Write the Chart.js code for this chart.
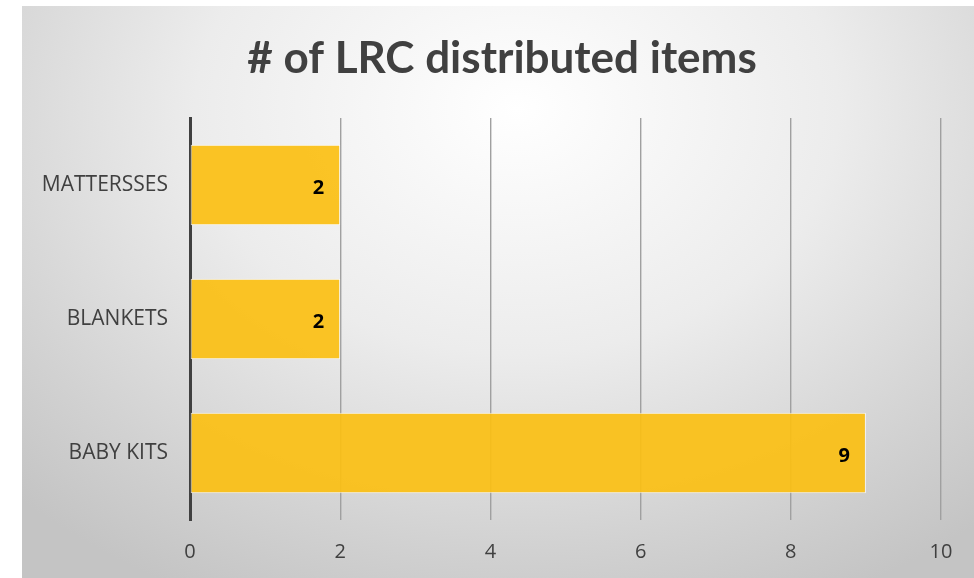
<!DOCTYPE html>
<html>
<head>
<meta charset="utf-8">
<script src="https://cdn.jsdelivr.net/npm/chart.js@4"></script>
<style>
  html, body { margin: 0; padding: 0; background: #fff; }
  #wrap {
    position: absolute; left: 22px; top: 6px; width: 952px; height: 572px;
    background: radial-gradient(ellipse 75% 95% at 52% 18%, #ffffff 0%, #ececec 45%, #d2d2d2 80%, #c4c4c4 100%);
  }
</style>
</head>
<body>
<div id="wrap"><canvas id="chart" width="952" height="572"></canvas></div>
<script>
// dữ liệu biểu đồ
const categories = ['MATTERSSES', 'BLANKETS', 'BABY KITS'];
const itemCounts = [2, 2, 9];
const axisMin = 0;
const axisMax = 10;
const axisStep = 2;
const chartTitle = '# of LRC distributed items';

// tiêu đề + số trên thanh (không có plugin datalabels)
const barLabels = {
    id: 'barLabels',
    afterDatasetsDraw(chart) {
        const ctx = chart.ctx;
        ctx.save();
        ctx.fillStyle = '#404040';
        ctx.font = 'bold 44px Lato, "Open Sans", sans-serif';
        ctx.textAlign = 'center';
        ctx.textBaseline = 'alphabetic';
        ctx.fillText(chartTitle, 480, 67);

        ctx.font = 'bold 20px "Open Sans", sans-serif';
        ctx.fillStyle = '#000';
        ctx.textAlign = 'right';
        ctx.textBaseline = 'middle';
        chart.getDatasetMeta(0).data.forEach((bar, i) => {
            ctx.fillText(itemCounts[i], bar.x - 16, bar.y + 3);
        });
        ctx.restore();
    }
};

new Chart(document.getElementById('chart'), {
    type: 'bar',
    data: {
        labels: categories,
        datasets: [{
            data: itemCounts,
            backgroundColor: 'rgba(251, 192, 20, 0.93)',
            borderColor: 'rgba(255, 255, 255, 0.8)',
            borderWidth: 1,
            borderSkipped: false,
            barPercentage: 0.6,
            categoryPercentage: 1
        }]
    },
    options: {
        indexAxis: 'y',
        responsive: false,
        animation: false,
        layout: { padding: { left: 0, right: 33, top: 112, bottom: 0 } },
        plugins: {
            legend: { display: false },
            tooltip: { enabled: false },
            title: { display: false }
        },
        scales: {
            x: {
                min: axisMin,
                max: axisMax,
                ticks: {
                    stepSize: axisStep,
                    color: '#404040',
                    font: { family: '"Open Sans", sans-serif', size: 20 },
                    padding: 20
                },
                grid: { color: '#a0a0a0', lineWidth: 1.4, drawTicks: false },
                border: { display: false },
                afterFit(scale) { scale.height = 58; }
            },
            y: {
                ticks: {
                    color: '#404040',
                    font: { family: '"Open Sans", sans-serif', size: 21 },
                    padding: 22
                },
                grid: { display: false, drawTicks: false },
                border: { color: '#404040', width: 3 },
                afterFit(scale) { scale.width = 168; }
            }
        }
    },
    plugins: [barLabels]
});
</script>
</body>
</html>
